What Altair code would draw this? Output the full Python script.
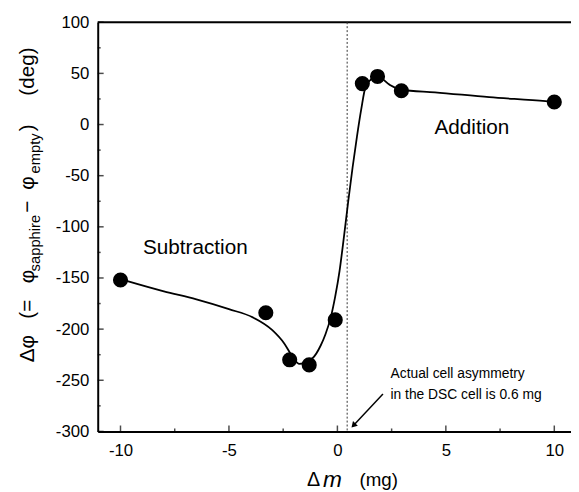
import altair as alt
import pandas as pd

# measured points
pt_x = [-10.0, -3.3, -2.2, -1.3, -0.1, 1.15, 1.85, 2.95, 10.0]
pt_y = [-152, -184, -230, -235, -191, 40, 47, 33, 22]

# fitted curve
curve_x = [-10, -9.6, -8, -6.5, -5, -3.9, -3, -2.45, -2.1, -1.75, -1.15, -0.77,
           -0.55, -0.3, -0.1, 0.1, 0.3, 0.5, 0.7, 0.9, 1.1, 1.3, 1.55, 1.85,
           2.4, 2.95, 4.5, 7, 9.6, 10]
curve_y = [-151, -153.5, -163, -171, -180.5, -188.5, -201, -214, -226, -234, -228.5,
           -216, -205, -188, -168, -143, -110, -75, -42, -12, 15, 37, 44, 47,
           39, 34, 31.5, 26.7, 22.8, 22]

x_major = [-10, -5, 0, 5, 10]
x_minor = [-7.5, -2.5, 2.5, 7.5]
y_major = [-300, -250, -200, -150, -100, -50, 0, 50, 100]
y_minor = [-275, -225, -175, -125, -75, -25, 25, 75]

asym_x = [0.45]
region_labels = ["Subtraction", "Addition"]
region_x = [-6.55, 6.2]
region_y = [-121, -3]
note_lines = ["Actual cell asymmetry", "in the DSC cell is 0.6 mg"]
note_x = [2.45, 2.45]
note_y = [-244, -264.5]
arrow_from = (2.1, -263.5)
arrow_head = (0.77, -293.5)

W, H = 480, 415
FONT = "Liberation Sans"
XS = alt.Scale(domain=[-11.05, 10.77], nice=False, zero=False)
YS = alt.Scale(domain=[-300, 100], nice=False, zero=False)
AX = alt.Axis(values=x_major, labelExpr="'' + datum.value", ticks=False, tickSize=0,
              grid=False, domainWidth=2, domainColor="black", labelFontSize=17,
              labelFont=FONT, labelColor="black", labelPadding=11, title=None)
AY = alt.Axis(values=y_major, labelExpr="'' + datum.value", ticks=False, tickSize=0,
              grid=False, domainWidth=2, domainColor="black", labelFontSize=17,
              labelFont=FONT, labelColor="black", labelPadding=9, title=None)


def X(f="x"):
    return alt.X(f + ":Q", scale=XS, axis=AX)


def Y(f="y"):
    return alt.Y(f + ":Q", scale=YS, axis=AY)


pts = pd.DataFrame({"x": pt_x, "y": pt_y})
crv = pd.DataFrame({"x": curve_x, "y": curve_y})
one = pd.DataFrame({"a": [0]})

layers = []

# top frame
layers.append(alt.Chart(one).mark_rule(color="black", strokeWidth=2).encode(
    x=alt.value(0), x2=alt.value(W), y=alt.value(0)))

# inward ticks
layers.append(alt.Chart(pd.DataFrame({"x": x_major})).mark_tick(
    orient="vertical", size=6, thickness=1.5, color="black").encode(
    x=X(), y=alt.value(H - 3)))
layers.append(alt.Chart(pd.DataFrame({"x": x_minor})).mark_tick(
    orient="vertical", size=3, thickness=1.5, color="black").encode(
    x=X(), y=alt.value(H - 1.5)))
layers.append(alt.Chart(pd.DataFrame({"y": y_major})).mark_tick(
    orient="horizontal", size=6, thickness=1.5, color="black").encode(
    y=Y(), x=alt.value(3)))
layers.append(alt.Chart(pd.DataFrame({"y": y_minor})).mark_tick(
    orient="horizontal", size=3, thickness=1.5, color="black").encode(
    y=Y(), x=alt.value(1.5)))

# dotted asymmetry line
layers.append(alt.Chart(pd.DataFrame({"x": asym_x})).mark_rule(
    color="#333333", strokeWidth=1, strokeDash=[2, 2]).encode(x=X()))

# curve and points
layers.append(alt.Chart(crv).mark_line(
    interpolate="monotone", color="black", strokeWidth=1.8).encode(x=X(), y=Y()))
layers.append(alt.Chart(pts).mark_circle(size=235, color="black", opacity=1).encode(
    x=X(), y=Y()))

# region labels
layers.append(alt.Chart(pd.DataFrame({"x": region_x, "y": region_y, "t": region_labels}))
              .mark_text(font=FONT, fontSize=21, color="black", align="center",
                         baseline="middle").encode(x=X(), y=Y(), text="t:N"))

# note
layers.append(alt.Chart(pd.DataFrame({"x": note_x, "y": note_y, "t": note_lines}))
              .mark_text(font=FONT, fontSize=14, color="black", align="left",
                         baseline="middle").encode(x=X(), y=Y(), text="t:N"))

# arrow
layers.append(alt.Chart(pd.DataFrame({"x": [arrow_from[0]], "y": [arrow_from[1]],
                                      "x2": [arrow_head[0]], "y2": [arrow_head[1]]}))
              .mark_rule(color="black", strokeWidth=1.5).encode(
                  x=X(), y=Y(), x2="x2:Q", y2="y2:Q"))
layers.append(alt.Chart(pd.DataFrame({"x": [arrow_head[0]], "y": [arrow_head[1]]}))
              .mark_point(shape="triangle", filled=True, size=45, color="black",
                          opacity=1, angle=223).encode(x=X(), y=Y()))

# x-axis title pieces (plot pixel coords)
xt_text = ["\u0394", "m", "(mg)"]
xt_px = [219, 238, 285]
xt_size = [20, 23, 19]
xt_style = ["normal", "italic", "normal"]
for t, px, fs, st in zip(xt_text, xt_px, xt_size, xt_style):
    layers.append(alt.Chart(one).mark_text(
        text=t, font=FONT, fontSize=fs, fontStyle=st, color="black",
        align="center", baseline="middle").encode(x=alt.value(px), y=alt.value(464)))

# y-axis title pieces (rotated)
yt_text = ["\u0394\u03c6", "(=", "\u03c6", "sapphire", "\u2212", "\u03c6", "empty", ")", "(deg)"]
yt_py = [331, 291, 258, 224, 187, 163, 133, 107, 50]
yt_sub = [False, False, False, True, False, False, True, False, False]
for t, py, sub in zip(yt_text, yt_py, yt_sub):
    layers.append(alt.Chart(one).mark_text(
        text=t, font=FONT, fontSize=15 if sub else 21, color="black",
        align="center", baseline="alphabetic", angle=270).encode(
        x=alt.value(-59 if sub else -65), y=alt.value(py)))

chart = alt.layer(*layers).properties(
    width=W, height=H,
    autosize=alt.AutoSizeParams(type="none"),
    padding={"left": 91, "top": 11, "right": 0, "bottom": 58},
).configure_view(stroke=None).configure(background="white")

chart.save("out.html", embed_options={"renderer": "svg", "actions": False})
